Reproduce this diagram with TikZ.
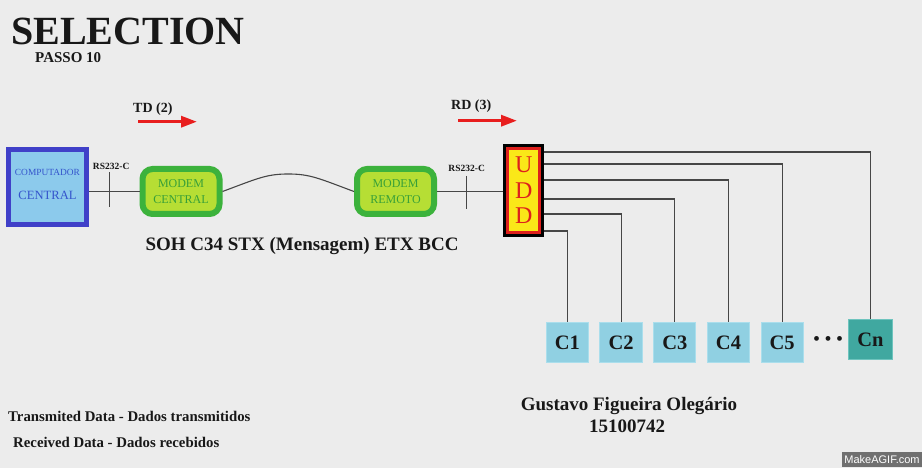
\documentclass[tikz,border=0pt]{standalone}
\usepackage{fontspec}
\setmainfont{Liberation Serif}
\newfontfamily\wmfont{Liberation Sans}
\usetikzlibrary{arrows.meta, positioning, calc}
\definecolor{bgC}   {RGB}{236,236,236}
\definecolor{compC} {RGB}{ 64, 64,200}
\definecolor{compF} {RGB}{140,202,236}
\definecolor{compT} {RGB}{ 52, 84,204}
\definecolor{modC}  {RGB}{ 60,178, 60}
\definecolor{modF}  {RGB}{182,222, 52}
\definecolor{modT}  {RGB}{ 56,160, 56}
\definecolor{uddC}  {RGB}{222, 32, 28}
\definecolor{uddF}  {RGB}{250,232, 24}
\definecolor{termF} {RGB}{144,208,226}
\definecolor{termD} {RGB}{170,222,236}
\definecolor{lastF} {RGB}{ 64,168,160}
\definecolor{lastD} {RGB}{110,196,190}
\definecolor{wireC} {RGB}{ 70, 70, 70}
\definecolor{arrC}  {RGB}{232, 30, 30}
\definecolor{txtC}  {RGB}{ 24, 24, 24}
\definecolor{wmC}   {RGB}{112,112,112}
\tikzset{
  comp/.style     = {rectangle, draw=compC, fill=compF, line width=5pt, inner sep=0pt,
                     align=center, text=compT, minimum width=78pt, minimum height=75.7pt},
  modem/.style    = {rectangle, rounded corners=10pt, draw=modC, fill=modF, line width=6pt,
                     inner sep=0pt, align=center, text=modT, font=\fontsize{12}{16}\selectfont,
                     minimum width=77pt, minimum height=45pt},
  udd/.style      = {rectangle, draw=uddC, fill=uddF, line width=3pt, outer sep=4.5pt,
                     preaction={draw=black, line width=9pt}, inner sep=0pt, align=center,
                     text=uddC, font=\fontsize{24}{25.6}\selectfont,
                     minimum width=31.7pt, minimum height=83.4pt},
  term/.style     = {rectangle, draw=termD, fill=termF, line width=1pt, inner sep=0pt,
                     text=txtC, font=\fontsize{20.5}{20.5}\selectfont\bfseries,
                     minimum width=42.3pt, minimum height=40.6pt},
  termlast/.style = {term, draw=lastD, fill=lastF, minimum width=44pt},
  wire/.style     = {draw=wireC, line width=1.1pt},
  bus/.style      = {draw=wireC, line width=1.1pt},
  tickmark/.style = {draw=wireC, line width=1.2pt},
  redarr/.style   = {-{Triangle[length=16pt, width=11pt]}, draw=arrC, line width=3.2pt},
  lbl/.style      = {inner sep=0pt, text=txtC, font=\fontsize{9.5}{10}\selectfont\bfseries},
  txt/.style      = {inner sep=0pt, text=txtC},
}

\begin{document}
\begin{tikzpicture}[x=1pt, y=-1pt]

\useasboundingbox (0,0) rectangle (922,468);
\fill[bgC] (0,0) rectangle (922,468);

% ---- Titles -----------------------------------------------------------------
\node[txt, anchor=base west, font=\fontsize{40}{40}\selectfont\bfseries] (title) at (11,44.5) {SELECTION};
\node[txt, anchor=base west, font=\fontsize{15}{15}\selectfont\bfseries] (passo) at (35,63) {PASSO 10};

\node[txt, anchor=base west, font=\fontsize{14}{14}\selectfont\bfseries] (td) at (133,113) {TD (2)};
\node[txt, anchor=base west, font=\fontsize{14}{14}\selectfont\bfseries] (rd) at (451,110) {RD (3)};

\coordinate (tdS) at (138,121.7);
\coordinate (tdE) at (197,121.7);
\coordinate (rdS) at (458,120.7);
\coordinate (rdE) at (517,120.7);

% ---- Nodes ------------------------------------------------------------------
\node[comp]  (CC)  at (47.5,187)
  {{\fontsize{9.4}{11}\selectfont COMPUTADOR}\\[11.4pt]{\fontsize{12.6}{14}\selectfont CENTRAL\rule[-5.4pt]{0pt}{0pt}}};

\node[modem] (MC)  at (181,191.5)   {MODEM\\CENTRAL};
\node[modem] (MR)  at (395.5,191.5) {MODEM\\REMOTO};

\node[udd]   (UDD) at (523.7,190.5) {U\\D\\D};

\node[txt, anchor=base, font=\fontsize{19}{19}\selectfont\bfseries] (msg) at (302,251)
  {SOH C34 STX (Mensagem) ETX BCC};

% ---- Terminals --------------------------------------------------------------
\node[term]                   (C1) at (567.4,342.5) {C1};
\node[term, right=10.4pt of C1] (C2) {C2};
\node[term, right=10.4pt of C2] (C3) {C3};
\node[term, right=10.4pt of C3] (C4) {C4};
\node[term, right=10.4pt of C4] (C5) {C5};
\node[txt, font=\fontsize{20}{20}\selectfont] (dots) at (828,341)
  {\textbullet\hspace{4.5pt}\textbullet\hspace{4.5pt}\textbullet};
\node[termlast]               (Cn) at (870.5,339.5) {Cn};

% ---- Links ------------------------------------------------------------------
\coordinate (peak) at ($(MC.east)!0.5!(MR.west) + (0,-17.5)$);
\draw[wire] (CC.east |- MC.west) -- (MC.west);
\draw[wire] (MC.east) .. controls +(35,-13) and +(-22,0) .. (peak)
                      .. controls +(22,0) and +(-35,-13) .. (MR.west);
\draw[wire] (MR.east) -- (MR.east -| UDD.west);

\coordinate (rsA) at ($(CC.east |- MC.west)!0.4!(MC.west)$);
\coordinate (rsB) at ($(MR.east)!0.44!(MR.east -| UDD.west)$);
\draw[tickmark] ([yshift=19.3pt]rsA) -- ([yshift=-15.7pt]rsA);
\draw[tickmark] ([yshift=15.5pt]rsB) -- ([yshift=-17.5pt]rsB);
\node[lbl, anchor=south] (rs1) at ([xshift=2pt, yshift=22pt]rsA) {RS232-C};
\node[lbl, anchor=south] (rs2) at ([xshift=0.5pt, yshift=20pt]rsB) {RS232-C};

% ---- Bus from UDD to terminals ----------------------------------------------
\foreach \nd/\f in {Cn/0.083, C5/0.213, C4/0.386, C3/0.592, C2/0.754, C1/0.938}
  \draw[bus] ($(UDD.north east)!\f!(UDD.south east)$) -| (\nd.north);

% ---- Data direction arrows --------------------------------------------------
\draw[redarr] (tdS) -- (tdE);
\draw[redarr] (rdS) -- (rdE);

% ---- Footer texts -----------------------------------------------------------
\node[txt, anchor=base west, font=\fontsize{14.8}{15}\selectfont\bfseries] (tx) at (8,421.5)
  {Transmited Data - Dados transmitidos};
\node[txt, anchor=base west, font=\fontsize{14.8}{15}\selectfont\bfseries] (rx) at (13,447.3)
  {Received Data - Dados recebidos};

\node[txt, anchor=base, font=\fontsize{19}{19}\selectfont\bfseries] (name) at (629,410)
  {Gustavo Figueira Olegário};
\node[txt, anchor=base, font=\fontsize{19}{19}\selectfont\bfseries] (num) at (627,432.3)
  {15100742};

\node[fill=wmC, text=white, inner sep=0pt, minimum width=80pt, minimum height=15.6pt,
      font=\wmfont\fontsize{11}{11}\selectfont] (wm) at (882,459.5) {MakeAGIF.com};

\end{tikzpicture}
\end{document}
